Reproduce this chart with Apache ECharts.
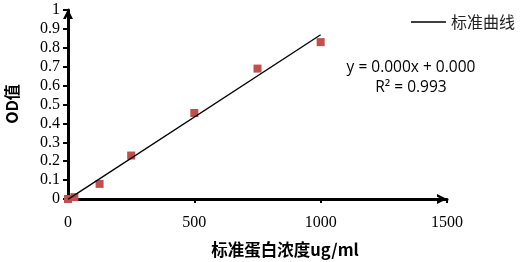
<!DOCTYPE html>
<html><head><meta charset="utf-8">
<script src="https://cdn.jsdelivr.net/npm/echarts@6/dist/echarts.min.js"></script>
<style>html,body{margin:0;padding:0;background:#fff}#c{width:524px;height:262px}</style>
</head><body><div id="c"></div>
<script>
const concX = [0, 25, 125, 250, 500, 750, 1000];
const odY = [0, 0.01, 0.08, 0.23, 0.455, 0.69, 0.83];
const trendX = [0, 1000];
const trendY = [-0.002, 0.869];
const yTicks = ['0','0.1','0.2','0.3','0.4','0.5','0.6','0.7','0.8','0.9','1'];
const xTicks = ['0','500','1000','1500'];
const legendName = '标准曲线';
const eqText = ['y = 0.000x + 0.000', 'R² = 0.993'];
const xName = '标准蛋白浓度ug/ml';
const yName = 'OD值';

const chart = echarts.init(document.getElementById('c'), null, {renderer:'canvas'});
const chevron = 'path://M0,10 L5,0 L10,10 L7.2,10 L5,5.4 L2.8,10 Z';
chart.setOption({
  animation:false,
  grid:{left:68,right:77,top:10,bottom:63,containLabel:false},
  legend:{
    data:[legendName], right:4, top:9, icon:'rect', itemWidth:35, itemHeight:1.5, itemGap:4,
    textStyle:{fontFamily:'Noto Sans CJK SC',fontSize:16,color:'#222'}
  },
  graphic:[
    {type:'text', x:411, y:60, style:{text:eqText[0], font:'15.5px "Open Sans"', fill:'#000', textAlign:'center'}},
    {type:'text', x:411, y:80, style:{text:eqText[1], font:'15.5px "Open Sans"', fill:'#000', textAlign:'center'}},
    {type:'text', x:285, y:241, style:{text:xName, font:'bold 16.5px "Noto Sans CJK SC"', fill:'#000', textAlign:'center'}},
    {type:'text', x:4, y:104, rotation:Math.PI/2, style:{text:yName, font:'bold 16px "Noto Sans CJK SC"', fill:'#000', textAlign:'center', textVerticalAlign:'top'}}
  ],
  xAxis:{
    type:'value', min:0, max:1500, interval:500,
    axisLine:{show:true,onZero:false,lineStyle:{color:'#000',width:3},symbol:['none',chevron],symbolSize:[14,10],symbolOffset:[0,-5]},
    axisTick:{show:true,inside:false,length:4,lineStyle:{color:'#000',width:2}},
    axisLabel:{margin:16,fontFamily:'Liberation Serif',fontSize:16,color:'#000',
      formatter:(v)=>xTicks[Math.round(v/500)]},
    splitLine:{show:false}
  },
  yAxis:{
    type:'value', min:0, max:1, interval:0.1,
    axisLine:{show:true,onZero:false,lineStyle:{color:'#000',width:3},symbol:['none',chevron],symbolSize:[14,10],symbolOffset:[0,-4]},
    axisTick:{show:true,inside:false,length:5,lineStyle:{color:'#000',width:2}},
    axisLabel:{margin:8,fontFamily:'Liberation Serif',fontSize:16,color:'#000',
      formatter:(v)=>yTicks[Math.round(v*10)]},
    splitLine:{show:false}
  },
  series:[
    {type:'scatter', name:'pts', symbol:'rect', symbolSize:8,
      itemStyle:{color:'#C0504D',opacity:1}, data:concX.map((x,i)=>[x,odY[i]]), z:3},
    {type:'line', name:legendName, showSymbol:false, symbol:'none',
      lineStyle:{color:'#000',width:1.3}, itemStyle:{color:'#000'},
      data:trendX.map((x,i)=>[x,trendY[i]]), z:4}
  ]
});
</script></body></html>
